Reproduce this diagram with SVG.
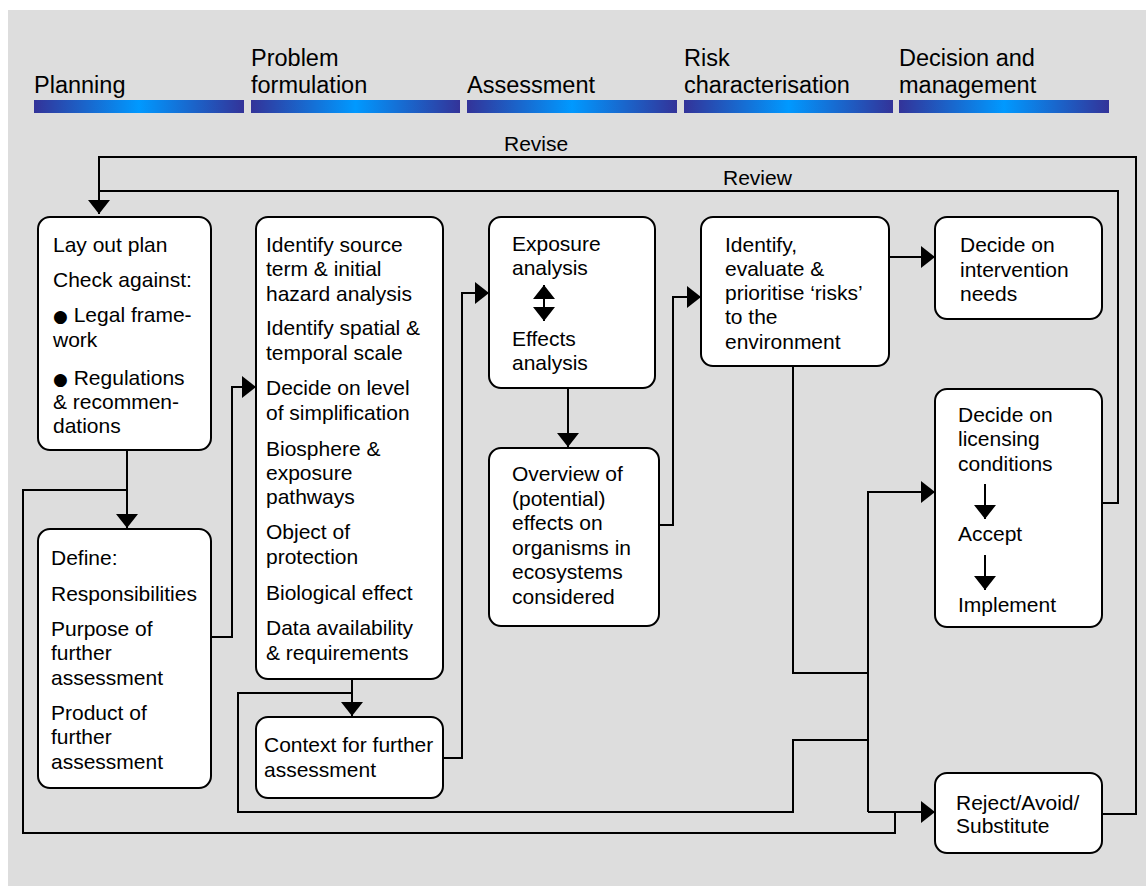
<svg xmlns="http://www.w3.org/2000/svg" width="1146" height="886" viewBox="0 0 1146 886">
<defs>
<linearGradient id="bar" x1="0" y1="0" x2="1" y2="0">
<stop offset="0" stop-color="#333399"/>
<stop offset="0.5" stop-color="#0099FF"/>
<stop offset="1" stop-color="#333399"/>
</linearGradient>
<marker id="arr" markerUnits="userSpaceOnUse" markerWidth="16" markerHeight="24" refX="14" refY="11" orient="auto">
<path d="M0,0 L14,11 L0,22 Z" fill="#000"/>
</marker>
<marker id="arr2" markerUnits="userSpaceOnUse" markerWidth="16" markerHeight="24" refX="14" refY="11" orient="auto-start-reverse">
<path d="M0,0 L14,11 L0,22 Z" fill="#000"/>
</marker>
<style>
.hd{font-family:"Liberation Sans",Arial,sans-serif;font-size:23.5px;fill:#000}
.t{font-family:"Liberation Sans",Arial,sans-serif;font-size:21px;fill:#000}
.bul{font-family:"DejaVu Sans",sans-serif;font-size:17px}
.box{fill:#fff;stroke:#000;stroke-width:2}
.c{fill:none;stroke:#000;stroke-width:2}
.ca{fill:none;stroke:#000;stroke-width:2;marker-end:url(#arr)}
</style>
</defs>
<rect x="8" y="10" width="1138" height="876" fill="#DDDDDD"/>
<g id="header">
<rect x="34" y="100" width="210" height="13" fill="url(#bar)"/>
<rect x="251" y="100" width="209" height="13" fill="url(#bar)"/>
<rect x="467" y="100" width="210" height="13" fill="url(#bar)"/>
<rect x="684" y="100" width="209" height="13" fill="url(#bar)"/>
<rect x="899" y="100" width="210" height="13" fill="url(#bar)"/>
<text class="hd" x="34" y="93">Planning</text>
<text class="hd" x="251" y="66">Problem</text>
<text class="hd" x="251" y="93">formulation</text>
<text class="hd" x="467" y="93">Assessment</text>
<text class="hd" x="684" y="66">Risk</text>
<text class="hd" x="684" y="93">characterisation</text>
<text class="hd" x="899" y="66">Decision and</text>
<text class="hd" x="899" y="93">management</text>
</g>
<g id="connectors">
<path class="ca" d="M1102,814 H1136 V157 H99 V214"/>
<path class="c" d="M1102,503 H1118 V191 H99"/>
<text class="t" x="504" y="151">Revise</text>
<text class="t" x="723" y="185">Review</text>
<path class="ca" d="M127,450 V528"/>
<path class="c" d="M127,490 H23 V833 H895 V812"/>
<path class="ca" d="M211,637 H232 V387 H256"/>
<path class="ca" d="M352,679 V716"/>
<path class="c" d="M352,693 H238 V812 H793 V740 H868"/>
<path class="ca" d="M443,758 H462 V293 H489"/>
<path class="ca" d="M568,388 V447"/>
<path class="ca" d="M659,525 H673 V297 H701"/>
<path class="ca" d="M889,257 H935"/>
<path class="c" d="M793,366 V673 H868"/>
<path class="ca" d="M868,812 V492 H935"/>
<path class="ca" d="M868,812 H935"/>
</g>
<g id="n1">
<rect class="box" x="38" y="217" width="173" height="233" rx="12"/>
<text class="t" x="53" y="252">Lay out plan</text>
<text class="t" x="53" y="287">Check against:</text>
<text class="t" x="53" y="322"><tspan class="bul">●</tspan> Legal frame-</text>
<text class="t" x="53" y="347">work</text>
<text class="t" x="53" y="385"><tspan class="bul">●</tspan> Regulations</text>
<text class="t" x="53" y="409">&amp; recommen-</text>
<text class="t" x="53" y="433">dations</text>
</g>
<g id="n2">
<rect class="box" x="38" y="529" width="173" height="259" rx="12"/>
<text class="t" x="51" y="565">Define:</text>
<text class="t" x="51" y="601">Responsibilities</text>
<text class="t" x="51" y="636">Purpose of</text>
<text class="t" x="51" y="660">further</text>
<text class="t" x="51" y="685">assessment</text>
<text class="t" x="51" y="720">Product of</text>
<text class="t" x="51" y="744">further</text>
<text class="t" x="51" y="769">assessment</text>
</g>
<g id="n3">
<rect class="box" x="256" y="217" width="187" height="462" rx="12"/>
<text class="t" x="266" y="252">Identify source</text>
<text class="t" x="266" y="276">term &amp; initial</text>
<text class="t" x="266" y="301">hazard analysis</text>
<text class="t" x="266" y="335">Identify spatial &amp;</text>
<text class="t" x="266" y="360">temporal scale</text>
<text class="t" x="266" y="395">Decide on level</text>
<text class="t" x="266" y="420">of simplification</text>
<text class="t" x="266" y="456">Biosphere &amp;</text>
<text class="t" x="266" y="480">exposure</text>
<text class="t" x="266" y="504">pathways</text>
<text class="t" x="266" y="539">Object of</text>
<text class="t" x="266" y="564">protection</text>
<text class="t" x="266" y="600">Biological effect</text>
<text class="t" x="266" y="635">Data availability</text>
<text class="t" x="266" y="660">&amp; requirements</text>
</g>
<g id="n4">
<rect class="box" x="256" y="717" width="187" height="81" rx="12"/>
<text class="t" x="264" y="752">Context for further</text>
<text class="t" x="264" y="777">assessment</text>
</g>
<g id="n5">
<rect class="box" x="489" y="217" width="166" height="171" rx="12"/>
<text class="t" x="512" y="251">Exposure</text>
<text class="t" x="512" y="275">analysis</text>
<path d="M544,285 V321" fill="none" stroke="#000" stroke-width="2" marker-start="url(#arr2)" marker-end="url(#arr2)"/>
<text class="t" x="512" y="346">Effects</text>
<text class="t" x="512" y="370">analysis</text>
</g>
<g id="n6">
<rect class="box" x="489" y="448" width="170" height="178" rx="12"/>
<text class="t" x="512" y="481">Overview of</text>
<text class="t" x="512" y="506">(potential)</text>
<text class="t" x="512" y="530">effects on</text>
<text class="t" x="512" y="555">organisms in</text>
<text class="t" x="512" y="579">ecosystems</text>
<text class="t" x="512" y="604">considered</text>
</g>
<g id="n7">
<rect class="box" x="701" y="217" width="188" height="149" rx="12"/>
<text class="t" x="725" y="252">Identify,</text>
<text class="t" x="725" y="276">evaluate &amp;</text>
<text class="t" x="725" y="300">prioritise ‘risks’</text>
<text class="t" x="725" y="324">to the</text>
<text class="t" x="725" y="349">environment</text>
</g>
<g id="n8">
<rect class="box" x="935" y="217" width="167" height="102" rx="12"/>
<text class="t" x="960" y="252">Decide on</text>
<text class="t" x="960" y="277">intervention</text>
<text class="t" x="960" y="301">needs</text>
</g>
<g id="n9">
<rect class="box" x="935" y="389" width="167" height="238" rx="12"/>
<text class="t" x="958" y="422">Decide on</text>
<text class="t" x="958" y="446">licensing</text>
<text class="t" x="958" y="471">conditions</text>
<path class="ca" d="M985,484 V519"/>
<text class="t" x="958" y="541">Accept</text>
<path class="ca" d="M985,555 V590"/>
<text class="t" x="958" y="612">Implement</text>
</g>
<g id="n10">
<rect class="box" x="935" y="773" width="167" height="80" rx="12"/>
<text class="t" x="956" y="810">Reject/Avoid/</text>
<text class="t" x="956" y="833">Substitute</text>
</g>
</svg>
